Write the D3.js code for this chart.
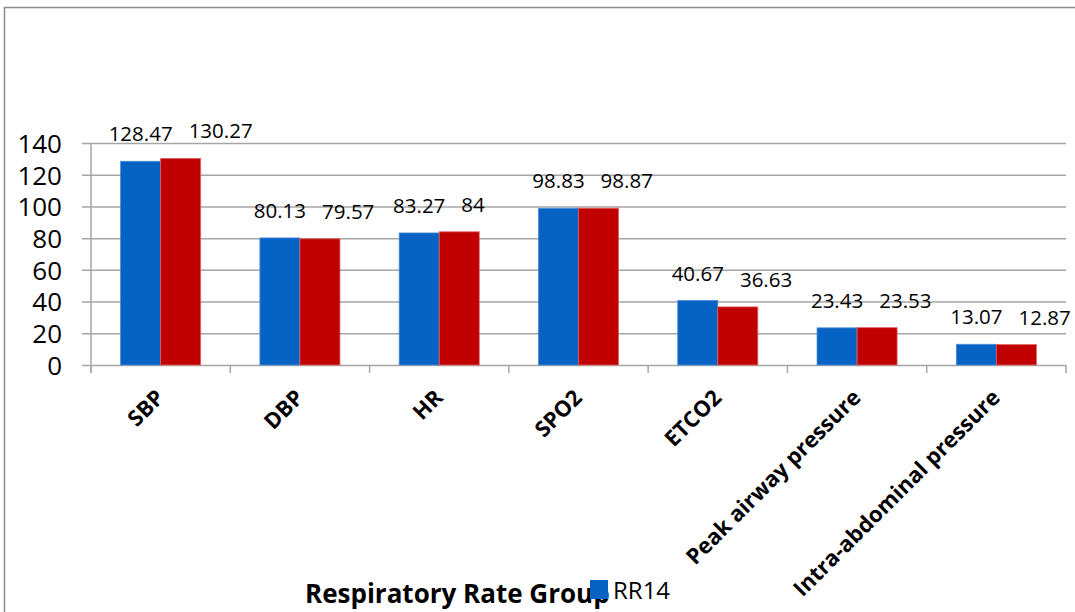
<!DOCTYPE html>
<html>
<head>
<meta charset="utf-8">
<script src="https://cdn.jsdelivr.net/npm/d3@7"></script>
<style>
  body { margin: 0; background: #fff; }
  svg { display: block; font-family: 'Open Sans', sans-serif; }
</style>
</head>
<body>
<div id="chart"></div>
<script>
// Données
const categories = ['SBP', 'DBP', 'HR', 'SPO2', 'ETCO2', 'Peak airway pressure', 'Intra-abdominal pressure'];
const seriesNames = ['RR14', 'RR18'];
const rr14 = [128.47, 80.13, 83.27, 98.83, 40.67, 23.43, 13.07];
const rr18 = [130.27, 79.57, 84, 98.87, 36.63, 23.53, 12.87];
const yTicks = [0, 20, 40, 60, 80, 100, 120, 140];
const colors = ['#0763C3', '#C00000'];

const W = 1075, H = 612;
const margin = { top: 143, right: 9, bottom: 247, left: 91 };
const width = W - margin.left - margin.right;
const height = H - margin.top - margin.bottom;

const svg = d3.select('#chart').append('svg')
    .attr('width', W)
    .attr('height', H);

// Cadre
svg.append('rect')
    .attr('x', 4.5).attr('y', 7.5)
    .attr('width', 1090).attr('height', 630)
    .attr('fill', 'none')
    .attr('stroke', '#8c8c8c')
    .attr('stroke-width', 1.5);

const g = svg.append('g')
    .attr('transform', `translate(${margin.left},${margin.top})`);

// Échelles
const x0 = d3.scaleBand().domain(categories).range([0, width]).padding(0);
const x1 = d3.scaleBand().domain(seriesNames).range([0, x0.bandwidth()])
    .paddingInner(0).paddingOuter(0.74);
const y = d3.scaleLinear().domain([0, 140]).range([height, 0]);

// Grille + axe Y
const yAxis = g.append('g')
    .call(d3.axisLeft(y).tickValues(yTicks).tickSize(-width - 9).tickPadding(0).tickFormat(d3.format('d')));
yAxis.select('.domain').remove();
yAxis.selectAll('.tick line')
    .attr('x1', -9)
    .attr('x2', width)
    .attr('stroke', '#a6a6a6')
    .attr('stroke-width', 1.5);
yAxis.selectAll('.tick text')
    .attr('x', -29)
    .attr('dy', '0.36em')
    .attr('font-size', 26)
    .attr('fill', '#000')
    .attr('font-family', "'Open Sans', sans-serif");

// Axe vertical
g.append('line')
    .attr('x1', 0).attr('x2', 0)
    .attr('y1', 0).attr('y2', height + 8)
    .attr('stroke', '#a6a6a6').attr('stroke-width', 1.5);

// Graduations catégories
const bounds = categories.map(c => x0(c)).concat([width]);
g.selectAll('.cat-tick')
    .data(bounds)
    .enter()
    .append('line')
    .attr('x1', d => d).attr('x2', d => d)
    .attr('y1', height).attr('y2', height + 8)
    .attr('stroke', '#a6a6a6').attr('stroke-width', 1.5);

// Barres
const rows = categories.map((c, i) => ({ cat: c, vals: [rr14[i], rr18[i]] }));
const groups = g.selectAll('.grp')
    .data(rows)
    .enter()
    .append('g')
    .attr('transform', d => `translate(${x0(d.cat)},0)`);

groups.selectAll('rect')
    .data(d => d.vals.map((v, j) => ({ s: seriesNames[j], v: v, j: j })))
    .enter()
    .append('rect')
    .attr('x', d => x1(d.s))
    .attr('y', d => y(d.v))
    .attr('width', x1.bandwidth())
    .attr('height', d => height - y(d.v))
    .attr('fill', d => colors[d.j])
    .attr('stroke', d => d.j === 0 ? '#4a8ad6' : '#e06060')
    .attr('stroke-width', 0.8);

// Étiquettes de valeurs
groups.each(function (d) {
    const grp = d3.select(this);
    const t0 = grp.append('text')
        .attr('x', x1('RR14') + x1.bandwidth() / 2)
        .attr('y', y(d.vals[0]) - 20)
        .attr('text-anchor', 'middle')
        .attr('font-size', 20.5)
        .text(d.vals[0]);
    const b0 = t0.node().getBBox();
    const t1 = grp.append('text')
        .attr('y', y(d.vals[1]) - 20)
        .attr('font-size', 20.5)
        .text(d.vals[1]);
    const w1 = t1.node().getBBox().width;
    const cx = x1('RR18') + x1.bandwidth() / 2;
    const left = Math.max(cx - w1 / 2, b0.x + b0.width + 16);
    t1.attr('x', left);
});

// Libellés catégories
g.selectAll('.cat-label')
    .data(categories)
    .enter()
    .append('text')
    .attr('transform', d => `translate(${x0(d) + x0.bandwidth() / 2 + 5},${height + 34}) rotate(-45)`)
    .attr('text-anchor', 'end')
    .attr('font-size', 22)
    .attr('font-weight', 'bold')
    .text(d => d);

// Titre axe
svg.append('text')
    .attr('x', 305)
    .attr('y', 603)
    .attr('font-size', 26)
    .attr('font-weight', 'bold')
    .text('Respiratory Rate Group');

// Légende
svg.append('rect')
    .attr('x', 590).attr('y', 580)
    .attr('width', 18).attr('height', 19)
    .attr('fill', colors[0]);
svg.append('text')
    .attr('x', 613)
    .attr('y', 599)
    .attr('font-size', 24)
    .text(seriesNames[0]);
</script>
</body>
</html>
